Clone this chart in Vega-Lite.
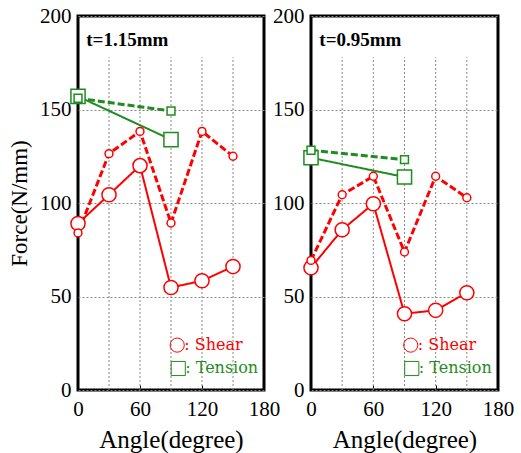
{
  "$schema": "https://vega.github.io/schema/vega-lite/v6.json",
  "padding": {"left": 7, "top": 3, "right": 5, "bottom": 0},
  "background": "white",
  "spacing": 47,
  "bounds": "flush",
  "datasets": {
    "pts": [
      {"t": "t=1.15mm", "type": "Shear", "line": "solid", "angle": 0, "force": 89},
      {"t": "t=1.15mm", "type": "Shear", "line": "solid", "angle": 30, "force": 104.4},
      {"t": "t=1.15mm", "type": "Shear", "line": "solid", "angle": 60, "force": 120},
      {"t": "t=1.15mm", "type": "Shear", "line": "solid", "angle": 90, "force": 54.8},
      {"t": "t=1.15mm", "type": "Shear", "line": "solid", "angle": 120, "force": 58.4},
      {"t": "t=1.15mm", "type": "Shear", "line": "solid", "angle": 150, "force": 66},
      {"t": "t=1.15mm", "type": "Shear", "line": "dashed", "angle": 0, "force": 84},
      {"t": "t=1.15mm", "type": "Shear", "line": "dashed", "angle": 30, "force": 126.4},
      {"t": "t=1.15mm", "type": "Shear", "line": "dashed", "angle": 60, "force": 138.3},
      {"t": "t=1.15mm", "type": "Shear", "line": "dashed", "angle": 90, "force": 89.3},
      {"t": "t=1.15mm", "type": "Shear", "line": "dashed", "angle": 120, "force": 138.3},
      {"t": "t=1.15mm", "type": "Shear", "line": "dashed", "angle": 150, "force": 125},
      {"t": "t=1.15mm", "type": "Tension", "line": "solid", "angle": 0, "force": 157},
      {"t": "t=1.15mm", "type": "Tension", "line": "solid", "angle": 90, "force": 133.9},
      {"t": "t=1.15mm", "type": "Tension", "line": "dashed", "angle": 0, "force": 156},
      {"t": "t=1.15mm", "type": "Tension", "line": "dashed", "angle": 90, "force": 149.2},
      {"t": "t=0.95mm", "type": "Shear", "line": "solid", "angle": 0, "force": 65.4},
      {"t": "t=0.95mm", "type": "Shear", "line": "solid", "angle": 30, "force": 85.7},
      {"t": "t=0.95mm", "type": "Shear", "line": "solid", "angle": 60, "force": 99.6},
      {"t": "t=0.95mm", "type": "Shear", "line": "solid", "angle": 90, "force": 40.8},
      {"t": "t=0.95mm", "type": "Shear", "line": "solid", "angle": 120, "force": 42.6},
      {"t": "t=0.95mm", "type": "Shear", "line": "solid", "angle": 150, "force": 52},
      {"t": "t=0.95mm", "type": "Shear", "line": "dashed", "angle": 0, "force": 69.3},
      {"t": "t=0.95mm", "type": "Shear", "line": "dashed", "angle": 30, "force": 104.4},
      {"t": "t=0.95mm", "type": "Shear", "line": "dashed", "angle": 60, "force": 114.3},
      {"t": "t=0.95mm", "type": "Shear", "line": "dashed", "angle": 90, "force": 73.8},
      {"t": "t=0.95mm", "type": "Shear", "line": "dashed", "angle": 120, "force": 114.3},
      {"t": "t=0.95mm", "type": "Shear", "line": "dashed", "angle": 150, "force": 102.8},
      {"t": "t=0.95mm", "type": "Tension", "line": "solid", "angle": 0, "force": 124.2},
      {"t": "t=0.95mm", "type": "Tension", "line": "solid", "angle": 90, "force": 113.9},
      {"t": "t=0.95mm", "type": "Tension", "line": "dashed", "angle": 0, "force": 128.2},
      {"t": "t=0.95mm", "type": "Tension", "line": "dashed", "angle": 90, "force": 123.2}
    ],
    "vgrid": [{"g": 30}, {"g": 60}, {"g": 90}, {"g": 120}, {"g": 150}],
    "leg": [
      {"type": "Shear", "angle": 96, "force": 24, "label": ": Shear"},
      {"type": "Tension", "angle": 97, "force": 11.5, "label": ": Tension"}
    ]
  },
  "config": {
    "view": {"stroke": "black", "strokeWidth": 3},
    "font": "Liberation Serif",
    "axis": {
      "labelFont": "Liberation Serif", "labelFontSize": 21, "labelColor": "black",
      "titleFont": "Liberation Serif", "titleFontSize": 23, "titleFontWeight": "normal", "titleColor": "black",
      "domain": false, "labelFlush": false, "labelOverlap": false
    }
  },
  "hconcat": [
    {
      "width": 186, "height": 374,
      "layer": [
        {
          "data": {"name": "vgrid"},
          "mark": {"type": "rule", "color": "#888", "strokeDash": [2, 2], "strokeWidth": 1},
          "encoding": {
            "x": {"field": "g", "type": "quantitative", "scale": {"domain": [0, 180], "nice": false, "padding": 0},
              "axis": {"values": [0, 30, 60, 90, 120, 150, 180], "labelExpr": "datum.value % 60 == 0 ? datum.label : ''", "tickSize": -5, "tickColor": "black", "labelPadding": 13, "grid": false, "title": "Angle(degree)", "titleFontSize": 25, "titlePadding": 8}},
            "y": {"datum": 0, "type": "quantitative", "scale": {"domain": [0, 200], "nice": false, "padding": 0},
              "axis": {"values": [0, 50, 100, 150, 200], "grid": true, "gridColor": "#888", "gridDash": [2, 2], "ticks": false, "labelPadding": 7, "title": "Force(N/mm)", "titlePadding": 8}},
            "y2": {"datum": 178}
          }
        },
        {
          "data": {"name": "pts"},
          "transform": [{"filter": "datum.t == 't=1.15mm'"}],
          "mark": {"type": "line"},
          "encoding": {
            "x": {"field": "angle", "type": "quantitative"},
            "y": {"field": "force", "type": "quantitative"},
            "color": {"field": "type", "type": "nominal", "scale": {"domain": ["Shear", "Tension"], "range": ["#ff0000", "#1e8c1e"]}, "legend": null},
            "strokeDash": {"field": "line", "type": "nominal", "scale": {"domain": ["solid", "dashed"], "range": [[1, 0], [7, 3]]}, "legend": null},
            "strokeWidth": {"field": "line", "type": "nominal", "scale": {"domain": ["solid", "dashed"], "range": [2, 3]}, "legend": null},
            "detail": {"field": "line"}
          }
        },
        {
          "data": {"name": "pts"},
          "transform": [{"filter": "datum.t == 't=1.15mm'"}],
          "mark": {"type": "point", "filled": false, "fill": "white", "fillOpacity": 1, "strokeWidth": 1.5, "opacity": 1},
          "encoding": {
            "x": {"field": "angle", "type": "quantitative"},
            "y": {"field": "force", "type": "quantitative"},
            "stroke": {"field": "type", "type": "nominal", "scale": {"domain": ["Shear", "Tension"], "range": ["#ff0000", "#1e8c1e"]}, "legend": null},
            "shape": {"field": "type", "type": "nominal", "scale": {"domain": ["Shear", "Tension"], "range": ["circle", "square"]}, "legend": null},
            "size": {"field": "line", "type": "nominal", "scale": {"domain": ["solid", "dashed"], "range": [200, 62]}, "legend": null}
          }
        },
        {
          "data": {"values": [{"label": "t=1.15mm", "angle": 8, "force": 187}]},
          "mark": {"type": "text", "align": "left", "baseline": "middle", "fontSize": 19, "fontWeight": "bold", "font": "Liberation Serif", "color": "black"},
          "encoding": {"x": {"field": "angle", "type": "quantitative"}, "y": {"field": "force", "type": "quantitative"}, "text": {"field": "label"}}
        },
        {
          "data": {"name": "leg"},
          "mark": {"type": "point", "filled": false, "strokeWidth": 1, "opacity": 1, "size": 200},
          "encoding": {
            "x": {"field": "angle", "type": "quantitative"},
            "y": {"field": "force", "type": "quantitative"},
            "stroke": {"field": "type", "type": "nominal", "legend": null},
            "shape": {"field": "type", "type": "nominal", "legend": null}
          }
        },
        {
          "data": {"name": "leg"},
          "mark": {"type": "text", "align": "left", "baseline": "middle", "fontSize": 16, "font": "DejaVu Serif", "dx": 7},
          "encoding": {
            "x": {"field": "angle", "type": "quantitative"},
            "y": {"field": "force", "type": "quantitative"},
            "text": {"field": "label"},
            "color": {"field": "type", "type": "nominal", "legend": null}
          }
        }
      ]
    },
    {
      "width": 187, "height": 374,
      "layer": [
        {
          "data": {"name": "vgrid"},
          "mark": {"type": "rule", "color": "#888", "strokeDash": [2, 2], "strokeWidth": 1},
          "encoding": {
            "x": {"field": "g", "type": "quantitative", "scale": {"domain": [0, 180], "nice": false, "padding": 0},
              "axis": {"values": [0, 30, 60, 90, 120, 150, 180], "labelExpr": "datum.value % 60 == 0 ? datum.label : ''", "tickSize": -5, "tickColor": "black", "labelPadding": 13, "grid": false, "title": "Angle(degree)", "titleFontSize": 25, "titlePadding": 8}},
            "y": {"datum": 0, "type": "quantitative", "scale": {"domain": [0, 200], "nice": false, "padding": 0},
              "axis": {"values": [0, 50, 100, 150, 200], "grid": true, "gridColor": "#888", "gridDash": [2, 2], "ticks": false, "labelPadding": 7, "title": null}},
            "y2": {"datum": 178}
          }
        },
        {
          "data": {"name": "pts"},
          "transform": [{"filter": "datum.t == 't=0.95mm'"}],
          "mark": {"type": "line"},
          "encoding": {
            "x": {"field": "angle", "type": "quantitative"},
            "y": {"field": "force", "type": "quantitative"},
            "color": {"field": "type", "type": "nominal", "scale": {"domain": ["Shear", "Tension"], "range": ["#ff0000", "#1e8c1e"]}, "legend": null},
            "strokeDash": {"field": "line", "type": "nominal", "scale": {"domain": ["solid", "dashed"], "range": [[1, 0], [7, 3]]}, "legend": null},
            "strokeWidth": {"field": "line", "type": "nominal", "scale": {"domain": ["solid", "dashed"], "range": [2, 3]}, "legend": null},
            "detail": {"field": "line"}
          }
        },
        {
          "data": {"name": "pts"},
          "transform": [{"filter": "datum.t == 't=0.95mm'"}],
          "mark": {"type": "point", "filled": false, "fill": "white", "fillOpacity": 1, "strokeWidth": 1.5, "opacity": 1},
          "encoding": {
            "x": {"field": "angle", "type": "quantitative"},
            "y": {"field": "force", "type": "quantitative"},
            "stroke": {"field": "type", "type": "nominal", "scale": {"domain": ["Shear", "Tension"], "range": ["#ff0000", "#1e8c1e"]}, "legend": null},
            "shape": {"field": "type", "type": "nominal", "scale": {"domain": ["Shear", "Tension"], "range": ["circle", "square"]}, "legend": null},
            "size": {"field": "line", "type": "nominal", "scale": {"domain": ["solid", "dashed"], "range": [200, 62]}, "legend": null}
          }
        },
        {
          "data": {"values": [{"label": "t=0.95mm", "angle": 8, "force": 187}]},
          "mark": {"type": "text", "align": "left", "baseline": "middle", "fontSize": 19, "fontWeight": "bold", "font": "Liberation Serif", "color": "black"},
          "encoding": {"x": {"field": "angle", "type": "quantitative"}, "y": {"field": "force", "type": "quantitative"}, "text": {"field": "label"}}
        },
        {
          "data": {"name": "leg"},
          "mark": {"type": "point", "filled": false, "strokeWidth": 1, "opacity": 1, "size": 200},
          "encoding": {
            "x": {"field": "angle", "type": "quantitative"},
            "y": {"field": "force", "type": "quantitative"},
            "stroke": {"field": "type", "type": "nominal", "legend": null},
            "shape": {"field": "type", "type": "nominal", "legend": null}
          }
        },
        {
          "data": {"name": "leg"},
          "mark": {"type": "text", "align": "left", "baseline": "middle", "fontSize": 16, "font": "DejaVu Serif", "dx": 7},
          "encoding": {
            "x": {"field": "angle", "type": "quantitative"},
            "y": {"field": "force", "type": "quantitative"},
            "text": {"field": "label"},
            "color": {"field": "type", "type": "nominal", "legend": null}
          }
        }
      ]
    }
  ]
}
